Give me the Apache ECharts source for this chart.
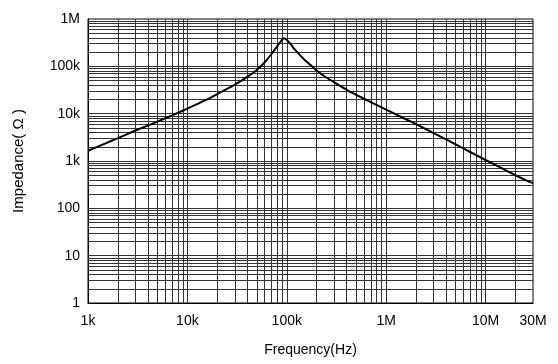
<!DOCTYPE html>
<html>
<head>
<meta charset="utf-8">
<script src="https://cdn.jsdelivr.net/npm/echarts@6/dist/echarts.min.js"></script>
<style>
html,body{margin:0;padding:0;background:#fff;}
#chart{width:558px;height:364px;}
</style>
</head>
<body>
<div id="chart"></div>
<script>
// Data
const freqHz = [1e3, 1.5e3, 2e3, 3e3, 5e3, 7e3, 1e4, 1.5e4, 2e4, 3e4, 4e4, 5e4, 6e4, 7e4, 8e4, 8.7e4, 9.3e4, 1e5, 1.1e5, 1.2e5, 1.35e5, 1.5e5, 1.75e5, 2e5, 2.5e5, 3e5, 4e5, 5e5, 7e5, 1e6, 1.5e6, 2e6, 3e6, 5e6, 7e6, 1e7, 1.5e7, 2e7, 2.5e7, 3e7];
const impedanceOhm = [1650, 2350, 3050, 4400, 6800, 9200, 12800, 19000, 26000, 41000, 60000, 84000, 122000, 180000, 265000, 335000, 390000, 360000, 290000, 228000, 175000, 140000, 105000, 82000, 58000, 46000, 32000, 25000, 17500, 12200, 8000, 6000, 3900, 2250, 1550, 1050, 680, 500, 400, 340];

const xTickValues = [1e3, 1e4, 1e5, 1e6, 1e7, 3e7];
const xTickLabels = ['1k', '10k', '100k', '1M', '10M', '30M'];
const yTickValues = [1, 10, 100, 1e3, 1e4, 1e5, 1e6];
const yTickLabels = ['1', '10', '100', '1k', '10k', '100k', '1M'];

// grid lines: every 1..9 multiple of each decade within range
const xGrid = [];
for (let d = 1e3; d <= 1e7; d *= 10) for (let m = 1; m <= 9; m++) { const v = d * m; if (v > 1e3 && v < 3e7) xGrid.push(v); }
const yGrid = [];
for (let d = 1; d <= 1e5; d *= 10) for (let m = 1; m <= 9; m++) { const v = d * m; if (v > 1 && v < 1e6) yGrid.push(v); }

const gridData = xGrid.map(v => ({ xAxis: v })).concat(yGrid.map(v => ({ yAxis: v })));

const chart = echarts.init(document.getElementById('chart'), null, { renderer: 'canvas' });
const font = 'Liberation Sans, Arial, Helvetica, sans-serif';
chart.setOption({
  animation: false,
  backgroundColor: '#fff',
  grid: { left: 88, right: 25, top: 19, bottom: 61, show: true, borderColor: '#000', borderWidth: 1, backgroundColor: 'transparent', containLabel: false, outerBoundsMode: 'none' },
  xAxis: {
    type: 'log', logBase: 10, min: 1e3, max: 3e7,
    name: 'Frequency(Hz)', nameLocation: 'middle', nameGap: 40,
    nameTextStyle: { color: '#000', fontSize: 14, fontFamily: font, verticalAlign: 'top' },
    axisLine: { show: true, lineStyle: { color: '#000', width: 1 } },
    axisTick: { show: false },
    splitLine: { show: false },
    axisLabel: {
      color: '#000', fontSize: 14, fontFamily: font, margin: 11,
      customValues: xTickValues,
      showMinLabel: true, showMaxLabel: true,
      formatter: v => { const i = xTickValues.findIndex(t => Math.abs(t - v) / t < 1e-6); return i >= 0 ? xTickLabels[i] : ''; }
    }
  },
  yAxis: {
    type: 'log', logBase: 10, min: 1, max: 1e6,
    name: 'Impedance( Ω )', nameLocation: 'middle', nameGap: 62, nameRotate: 90,
    nameTextStyle: { color: '#000', fontSize: 15, fontFamily: font },
    axisLine: { show: true, lineStyle: { color: '#000', width: 1 } },
    axisTick: { show: false },
    splitLine: { show: false },
    axisLabel: {
      color: '#000', fontSize: 14, fontFamily: font, margin: 8,
      customValues: yTickValues,
      formatter: v => { const i = yTickValues.findIndex(t => Math.abs(t - v) / t < 1e-6); return i >= 0 ? yTickLabels[i] : ''; }
    }
  },
  series: [
    {
      type: 'line',
      data: [],
      silent: true,
      markLine: {
        silent: true, symbol: 'none', animation: false,
        label: { show: false },
        lineStyle: { color: '#333', width: 1, type: 'solid' },
        emphasis: { disabled: true },
        data: gridData
      }
    },
    {
      type: 'line',
      data: freqHz.map((f, i) => [f, impedanceOhm[i]]),
      showSymbol: false,
      smooth: 0.2,
      silent: true,
      z: 5,
      lineStyle: { color: '#000', width: 2 }
    }
  ]
});
</script>
</body>
</html>
